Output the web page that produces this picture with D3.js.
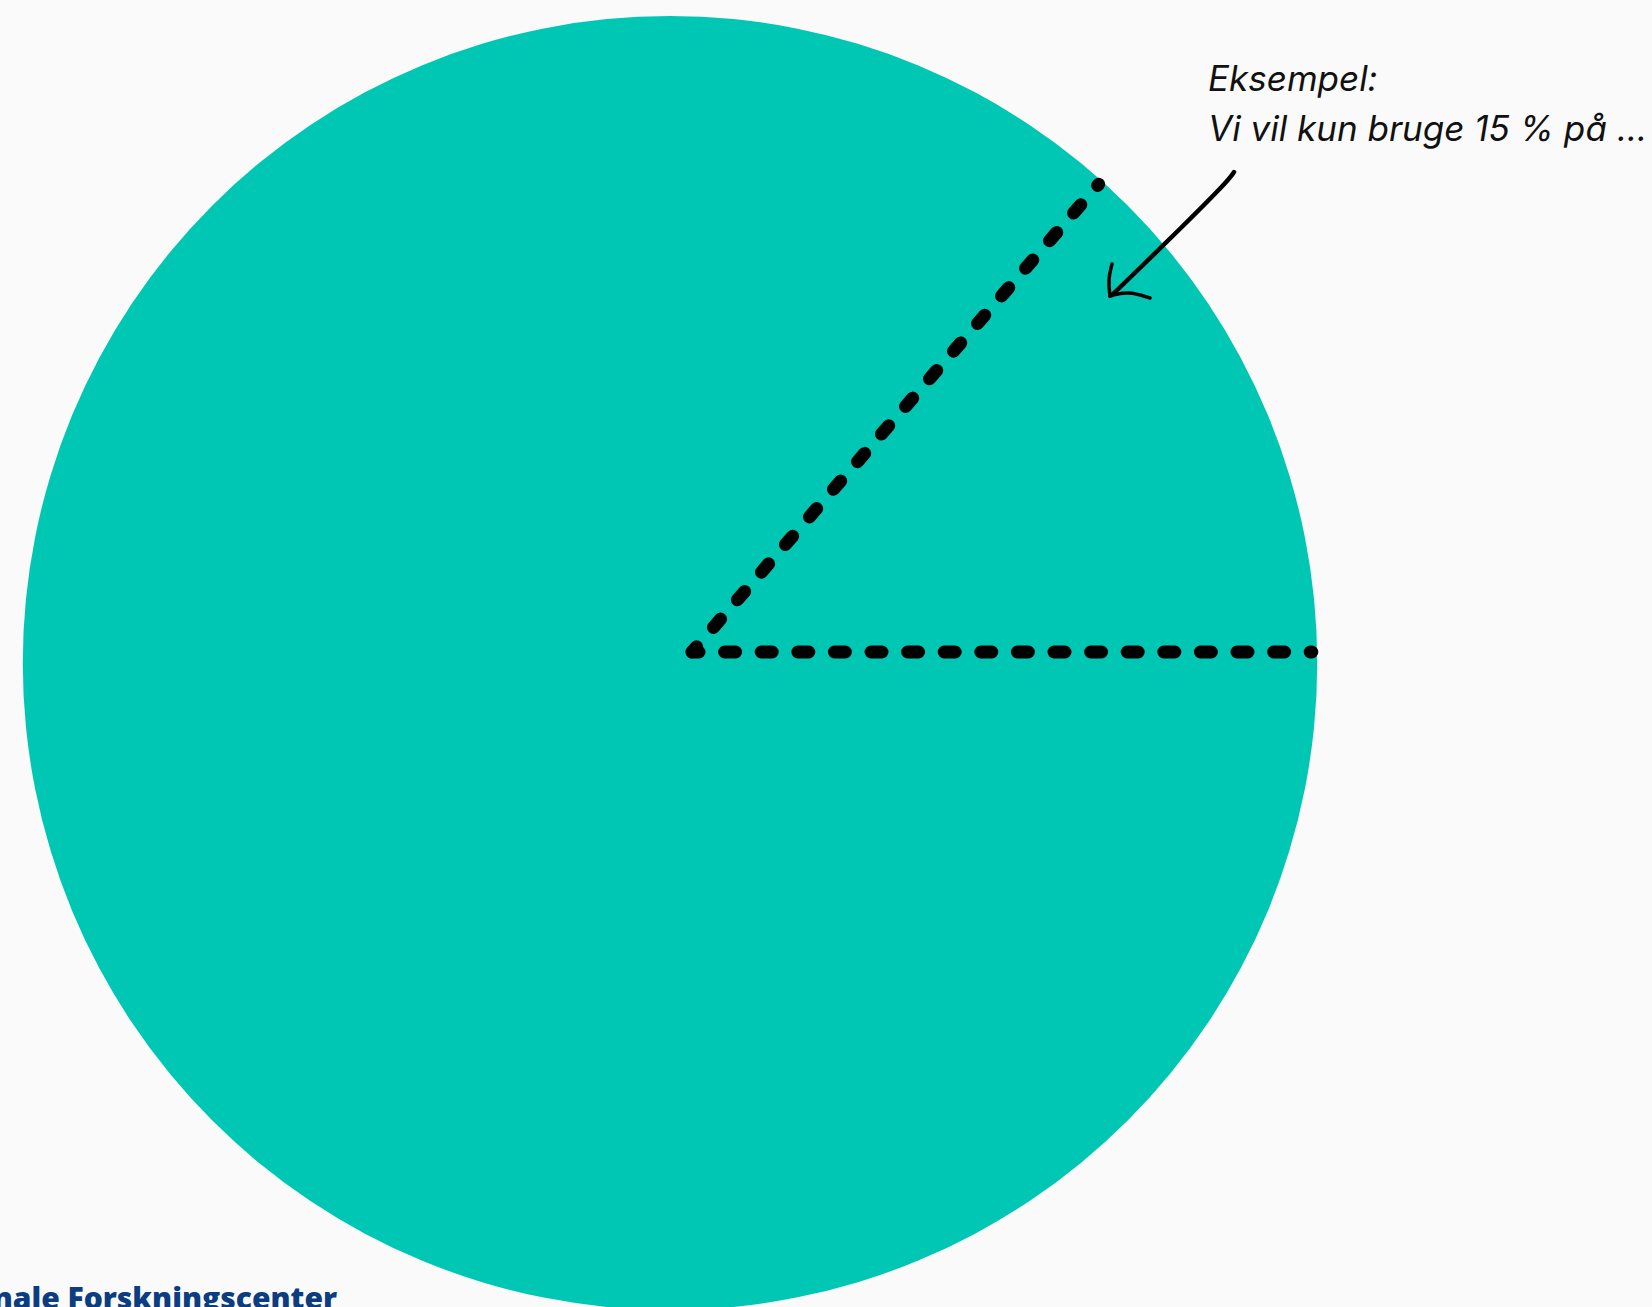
<!DOCTYPE html>
<html>
<head>
<meta charset="utf-8">
<script src="https://cdn.jsdelivr.net/npm/d3@7"></script>
<style>
  html, body { margin: 0; padding: 0; background: #FAFAFA; overflow: hidden; }
  svg { display: block; }
</style>
</head>
<body>
<script>
// ---- data ----
const sliceLabels = ["Hele budgettet"];
const sliceValues = [100];
const sliceColors = ["#00C7B3"];
// annotation rays of the example wedge, degrees counter-clockwise from 3 o'clock
const wedgeRayAngles = [0, 49];
const annotationLines = ["Eksempel:", "Vi vil kun bruge 15 % på ..."];
const footerText = "Det Nationale Forskningscenter";

// ---- layout ----
const W = 1652, H = 1307;
const cx = 670, cy = 663, R = 647;

const svg = d3.select("body").append("svg")
  .attr("width", W).attr("height", H);

svg.append("rect").attr("width", W).attr("height", H).attr("fill", "#FAFAFA");

const g = svg.append("g").attr("transform", `translate(${cx},${cy})`);

const pie = d3.pie().sort(null).value(d => d.value);
const arc = d3.arc().innerRadius(0).outerRadius(R);
const pieData = pie(sliceValues.map((v, i) => ({ label: sliceLabels[i], value: v, color: sliceColors[i] })));

g.selectAll("path.slice").data(pieData).join("path")
  .attr("class", "slice")
  .attr("d", arc)
  .attr("fill", d => d.data.color);

// ---- dashed wedge (annotation) ----
const rScale = d3.scaleLinear().domain([0, 1]).range([0, R]);
const vertex = [22, -11];           // small offset of the hand-placed vertex
const rayLen = rScale(0.958);
const wedge = g.append("g").attr("transform", `translate(${vertex[0]},${vertex[1]})`);
wedge.selectAll("line.ray").data(wedgeRayAngles).join("line")
  .attr("class", "ray")
  .attr("x1", 0).attr("y1", 0)
  .attr("x2", a => rayLen * Math.cos(a * Math.PI / 180))
  .attr("y2", a => -rayLen * Math.sin(a * Math.PI / 180))
  .attr("stroke", "#000")
  .attr("stroke-width", 13)
  .attr("stroke-linecap", "round")
  .attr("stroke-dasharray", "11 25.6")
  .attr("stroke-dashoffset", 4);

// ---- annotation text ----
const txt = svg.append("text")
  .attr("x", 1208).attr("y", 91)
  .attr("font-family", "Inter, 'Noto Sans', sans-serif")
  .attr("font-style", "italic")
  .attr("font-size", 35)
  .attr("fill", "#111");
txt.selectAll("tspan").data(annotationLines).join("tspan")
  .attr("x", 1208)
  .attr("dy", (d, i) => i === 0 ? 0 : 50)
  .text(d => d);

// ---- hand-drawn arrow ----
const line = d3.line().curve(d3.curveBasis);
const shaft = [[1234, 172], [1228, 181], [1180, 229], [1140, 268], [1112, 295]];
const barb1 = [[1112, 264], [1108, 280], [1110, 296]];
const barb2 = [[1110, 296], [1128, 291], [1150, 298]];
const arrow = svg.append("g").attr("fill", "none").attr("stroke", "#000")
  .attr("stroke-linecap", "round").attr("stroke-linejoin", "round");
arrow.append("path").attr("d", line(shaft)).attr("stroke-width", 4.5);
arrow.append("path").attr("d", line(barb1)).attr("stroke-width", 3.5);
arrow.append("path").attr("d", line(barb2)).attr("stroke-width", 3.5);

// ---- footer (cut off at the bottom-left, as in the source) ----
svg.append("text")
  .attr("x", 337).attr("y", 1309)
  .attr("text-anchor", "end")
  .attr("font-family", "'Open Sans', 'Noto Sans', sans-serif")
  .attr("font-weight", 800)
  .attr("font-size", 30)
  .attr("fill", "#0B3D80")
  .text(footerText);
</script>
</body>
</html>
